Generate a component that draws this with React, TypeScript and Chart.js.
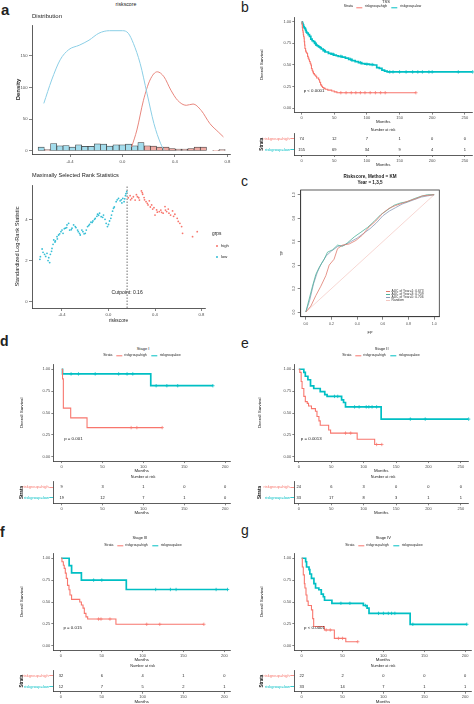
import React, { useEffect, useRef } from "react";
import { Chart, registerables } from "chart.js";
Chart.register(...registerables);

const FONT = '"Liberation Sans", Arial, Helvetica, sans-serif';
Chart.defaults.font.family = FONT;
const RED = "#F8766D";
const TEAL = "#00BFC4";
const INK = "#333333";

// ---------------- Panel a: distribution ----------------
const distTicksX = [-0.4, 0, 0.4, 0.8];
const distTicksY = [0, 50, 100, 150];
const histBins = [-0.62, -0.573, -0.525, -0.477, -0.43, -0.382, -0.335, -0.287, -0.239, -0.192, -0.144, -0.097, -0.049, -0.001, 0.046, 0.094, 0.141, 0.189, 0.236, 0.284, 0.332, 0.379, 0.427, 0.474, 0.522, 0.57, 0.617, 0.665, 0.712, 0.76];
const histLow = [6, null, 11.6, 8, 8.5, 6, 9.5, 7, 7, 11, 10.5, 7.4, 9.5, 9.5, 10.5, 8, 13, null, null, null, null, null, null, null, null, null, null, null, null, null];
const histHigh = [null, 2, null, null, null, null, null, null, null, null, null, null, null, null, null, null, null, 8, 7.4, 6, 6, 3.7, 2.6, 2.6, 3.7, 6, 6, null, 1, 2];
const densLowX = [-0.6, -0.54, -0.475, -0.41, -0.33, -0.255, -0.18, -0.1, 0.0, 0.044, 0.083, 0.135, 0.187, 0.24, 0.29, 0.317];
const densLowY = [75, 112, 144, 160, 167, 175, 186, 190, 190, 186, 170, 138, 91, 43, 12, 1];
const densHighX = [0.07, 0.11, 0.16, 0.21, 0.265, 0.317, 0.369, 0.42, 0.486, 0.538, 0.6, 0.667, 0.73, 0.77];
const densHighY = [6, 33, 80, 112, 125, 117, 96, 80, 72, 74, 64, 43, 30, 22];

// ---------------- Panel a: maximally selected rank statistics ----------------
const rankTicksX = [-0.4, 0, 0.4, 0.8];
const rankTicksY = [0, 2, 4];
const rankLowX = [-0.59, -0.586, -0.571, -0.563, -0.529, -0.514, -0.506, -0.5, -0.486, -0.477, -0.471, -0.457, -0.443, -0.429, -0.409, -0.4, -0.391, -0.371, -0.357, -0.343, -0.334, -0.314, -0.3, -0.286, -0.266, -0.249, -0.243, -0.229, -0.2, -0.191, -0.18, -0.163, -0.151, -0.134, -0.114, -0.094, -0.077, -0.063, -0.043, -0.02, -0.009, 0.009, 0.026, 0.043, 0.066, 0.086, 0.1, 0.123, 0.134, 0.146, 0.157, -0.55, -0.54, -0.52, -0.49, -0.46, -0.44, -0.42, -0.38, -0.36, -0.32, -0.28, -0.26, -0.22, -0.21, -0.17, -0.14, -0.12, -0.1, -0.085, -0.05, -0.03, 0.0, 0.02, 0.035, 0.05, 0.075, 0.11, 0.115, 0.14, 0.15];
const rankLowY = [2.06, 2.19, 2.56, 2.4, 2.35, 2.14, 1.9, 2.3, 2.59, 2.79, 3.0, 2.95, 3.16, 3.24, 3.4, 3.48, 3.32, 3.57, 3.73, 3.81, 3.48, 3.57, 3.73, 3.65, 3.48, 3.32, 3.24, 3.48, 3.32, 3.48, 3.65, 3.76, 3.86, 3.92, 4.05, 4.25, 4.3, 4.13, 4.21, 3.81, 3.65, 3.92, 4.21, 4.54, 4.86, 5.02, 4.9, 5.02, 4.86, 5.15, 5.35, 2.3, 2.2, 2.0, 2.45, 2.9, 3.05, 3.3, 3.55, 3.6, 3.5, 3.6, 3.4, 3.4, 3.3, 3.7, 3.85, 4.0, 4.15, 4.2, 4.1, 4.0, 3.75, 4.05, 4.4, 4.6, 4.95, 4.95, 4.8, 5.0, 5.25];
const rankHighX = [0.186, 0.2, 0.214, 0.229, 0.249, 0.266, 0.283, 0.294, 0.306, 0.323, 0.334, 0.351, 0.371, 0.391, 0.4, 0.414, 0.437, 0.457, 0.486, 0.5, 0.514, 0.534, 0.551, 0.571, 0.591, 0.614, 0.629, 0.637, 0.723, 0.763, 0.17, 0.19, 0.24, 0.26, 0.29, 0.31, 0.34, 0.36, 0.38, 0.42, 0.45, 0.47, 0.49, 0.52, 0.56, 0.6];
const rankHighY = [5.15, 5.02, 5.1, 4.94, 5.1, 4.94, 5.38, 5.22, 5.06, 4.86, 4.78, 4.9, 4.7, 4.57, 4.21, 4.46, 4.38, 4.34, 4.62, 4.38, 4.5, 4.21, 4.41, 4.25, 4.05, 3.81, 3.65, 3.32, 3.16, 3.4, 5.05, 4.95, 5.2, 5.05, 5.3, 4.95, 4.7, 4.6, 4.5, 4.35, 4.45, 4.3, 4.45, 4.3, 4.15, 3.9];
const cutpoint = 0.16;
const rankYMin = -0.306;
const rankYMax = 5.67;

// ---------------- Panel c: ROC ----------------
const rocTicks = [0, 0.2, 0.4, 0.6, 0.8, 1.0];
const rocFP1 = [0, 0.039, 0.078, 0.117, 0.156, 0.182, 0.22, 0.247, 0.286, 0.338, 0.39, 0.44, 0.494, 0.545, 0.597, 0.65, 0.7, 0.753, 0.805, 0.857, 0.909, 1];
const rocTP1 = [0, 0.05, 0.14, 0.22, 0.31, 0.4, 0.45, 0.54, 0.57, 0.58, 0.61, 0.655, 0.727, 0.776, 0.84, 0.885, 0.908, 0.928, 0.948, 0.966, 0.99, 1];
const rocFP3 = [0, 0.026, 0.052, 0.078, 0.104, 0.143, 0.169, 0.208, 0.247, 0.286, 0.325, 0.377, 0.429, 0.48, 0.53, 0.584, 0.636, 0.688, 0.74, 0.79, 0.844, 0.896, 0.948, 1];
const rocTP3 = [0, 0.11, 0.22, 0.32, 0.38, 0.45, 0.51, 0.53, 0.57, 0.56, 0.59, 0.64, 0.68, 0.72, 0.77, 0.83, 0.87, 0.91, 0.93, 0.94, 0.966, 0.986, 1, 1];
const rocFP5 = [0, 0.03, 0.06, 0.09, 0.12, 0.16, 0.2, 0.25, 0.3, 0.35, 0.4, 0.45, 0.5, 0.55, 0.6, 0.65, 0.7, 0.75, 0.8, 0.85, 0.9, 0.95, 1];
const rocTP5 = [0, 0.1, 0.24, 0.34, 0.41, 0.48, 0.52, 0.56, 0.57, 0.6, 0.63, 0.67, 0.71, 0.76, 0.82, 0.86, 0.89, 0.92, 0.94, 0.96, 0.98, 0.99, 1];
const rocRandom = [0, 1];
const rocLegend = ["AUC of Year=1: 0.673", "AUC of Year=3: 0.709", "AUC of Year=5: 0.706", "Random"];
const rocColors = ["#E07B6E", "#4DB39A", "#8A9BB8", "#F3C6C0"];

// ---------------- KM panels ----------------
const survTicksY = [0, 0.25, 0.5, 0.75, 1];
const strata = ["riskgroup=high", "riskgroup=low"];

// b: TSS
const bTicksX = [0, 50, 100, 150, 200, 250];
const bHighT = [0, 0.5, 1, 1.5, 2, 2.5, 3, 3.6, 4, 4.5, 5, 6, 7, 7.7, 9, 10, 11, 12, 13, 14, 15, 16, 17, 18, 19.5, 21.5, 23, 26, 27.5, 29, 30.5, 32, 34, 36, 40, 46, 50, 54, 175];
const bHighS = [1, 0.97, 0.93, 0.9, 0.88, 0.85, 0.83, 0.81, 0.77, 0.73, 0.69, 0.66, 0.645, 0.635, 0.6, 0.58, 0.56, 0.54, 0.52, 0.5, 0.46, 0.44, 0.42, 0.4, 0.385, 0.37, 0.35, 0.33, 0.3, 0.27, 0.255, 0.24, 0.23, 0.22, 0.21, 0.2, 0.19, 0.18, 0.18];
const bHighCens = [60, 68, 76, 83, 90, 97, 105, 113, 121, 128, 175];
const bLowT = [0, 1, 2, 3, 4, 5, 6, 7, 8, 10, 12, 14, 16, 18, 20, 22, 24, 26, 28, 30, 33, 36, 41, 45, 49, 53, 56, 62, 67, 72, 77, 82, 87, 92, 97, 104, 110, 115, 119, 123, 127, 131, 262];
const bLowS = [1, 0.98, 0.96, 0.94, 0.93, 0.92, 0.9, 0.88, 0.87, 0.85, 0.83, 0.8, 0.78, 0.77, 0.75, 0.73, 0.72, 0.71, 0.7, 0.685, 0.665, 0.65, 0.635, 0.625, 0.615, 0.607, 0.6, 0.59, 0.58, 0.565, 0.55, 0.54, 0.527, 0.515, 0.51, 0.505, 0.5, 0.47, 0.46, 0.44, 0.43, 0.42, 0.42];
const bLowCens = [21, 35, 48, 60, 75, 90, 100, 108, 135, 140, 150, 160, 170, 178, 185, 195, 200, 240, 262];
const bRiskHigh = [74, 12, 7, 1, 0, 0];
const bRiskLow = [155, 69, 34, 9, 4, 1];

// d: Stage I
const dTicksX = [0, 50, 100, 150, 200];
const dHighT = [0, 1, 2, 11, 31, 123];
const dHighS = [1, 0.89, 0.556, 0.444, 0.333, 0.333];
const dHighCens = [85, 92, 123];
const dLowT = [0, 1, 109, 185];
const dLowS = [1, 0.947, 0.812, 0.812];
const dLowCens = [11.5, 20.5, 41, 69.7, 80, 87, 115.6, 128.7, 142, 185];
const dRiskHigh = [9, 3, 1, 0, 0];
const dRiskLow = [19, 12, 7, 1, 0];

// e: Stage II
const eTicksX = [0, 50, 100, 150, 200, 250];
const eHighT = [0, 1.5, 3.6, 5, 7.7, 10, 13, 15, 19.5, 25.6, 28, 31, 33, 46, 49, 90, 117, 128];
const eHighS = [1, 0.965, 0.86, 0.78, 0.69, 0.63, 0.61, 0.58, 0.55, 0.52, 0.46, 0.41, 0.36, 0.305, 0.27, 0.2, 0.14, 0.14];
const eHighCens = [72, 80, 120, 128];
const eLowT = [0, 5, 7.7, 10, 14, 18, 23, 33, 40, 43.6, 66, 69, 72, 127, 262];
const eLowS = [1, 1, 0.965, 0.92, 0.88, 0.81, 0.78, 0.745, 0.71, 0.69, 0.65, 0.62, 0.57, 0.43, 0.43];
const eLowCens = [55, 60, 86, 93, 104, 108, 113, 120, 172, 195, 262];
const eRiskHigh = [24, 6, 3, 0, 0, 0];
const eRiskLow = [33, 17, 8, 3, 1, 1];

// f: Stage III
const fTicksX = [0, 50, 100, 150, 200];
const fHighT = [0, 1.2, 2.9, 4, 5.3, 6.5, 8, 9.8, 11, 13, 23, 25, 27, 28.6, 30.6, 32.7, 67.3, 175];
const fHighS = [1, 0.96, 0.92, 0.885, 0.83, 0.77, 0.69, 0.64, 0.58, 0.53, 0.5, 0.465, 0.43, 0.37, 0.33, 0.305, 0.245, 0.245];
const fHighCens = [46, 49, 60, 105, 121, 175];
const fLowT = [0, 10, 13, 25, 80, 204];
const fLowS = [1, 0.917, 0.833, 0.75, 0.643, 0.643];
const fLowCens = [40, 50, 116, 134, 141, 190, 204];
const fRiskHigh = [32, 6, 4, 1, 0];
const fRiskLow = [12, 7, 5, 2, 1];

// g: Stage IV
const gTicksX = [0, 50, 100, 150, 200];
const gHighT = [0, 0.8, 2, 3.3, 4, 5.3, 6.5, 8, 12, 13.5, 14.7, 27.8, 40, 54, 68.6];
const gHighS = [1, 0.9, 0.81, 0.71, 0.66, 0.58, 0.51, 0.46, 0.41, 0.31, 0.22, 0.18, 0.084, 0.046, 0.046];
const gHighCens = [30, 35, 45, 50, 68.6];
const gLowT = [0, 4.9, 6, 9, 10, 12, 15, 17, 21, 24, 26.5, 28, 37, 75.5, 80, 82.4, 132.7, 202];
const gLowS = [1, 0.96, 0.9, 0.87, 0.82, 0.77, 0.71, 0.66, 0.64, 0.59, 0.56, 0.52, 0.485, 0.46, 0.43, 0.37, 0.245, 0.245];
const gLowCens = [48, 59, 78, 94, 100, 106, 110, 114, 136, 202];
const gRiskHigh = [22, 2, 0, 0, 0];
const gRiskLow = [33, 14, 7, 1, 1];

// ---------------- helpers ----------------
type Box = { l: number; t: number; w: number; h: number };
type Area = { l: number; t: number; r: number; b: number };

function rbox(c: Box): Box {
  return { l: Math.round(c.l), t: Math.round(c.t), w: Math.round(c.w), h: Math.round(c.h) };
}
function geo(c0: Box, a: Area) {
  const c = rbox(c0);
  return {
    padding: { top: a.t - c.t, right: c.l + c.w - a.r, left: 0, bottom: 0 },
    yW: a.l - c.l,
    xH: c.t + c.h - a.b,
  };
}
const pts = (xs: number[], ys: (number | null)[]) =>
  xs.map((x, i) => ({ x, y: ys[i] })).filter((p) => p.y !== null && p.y !== undefined);
const survAt = (t: number[], s: number[], x: number) => {
  let v = s[0];
  for (let i = 0; i < t.length; i++) if (t[i] <= x) v = s[i];
  return v;
};

function linAxis(p: {
  min: number; max: number; ticks: number[]; fmt: (v: number) => string; fit: (s: any) => void;
  title?: string; tickSize?: number; titleSize?: number; titleBold?: boolean; tickLen?: number; pad?: number; rot?: number;
}) {
  return {
    type: "linear",
    min: p.min,
    max: p.max,
    offset: false,
    afterBuildTicks: (s: any) => { s.ticks = p.ticks.map((v) => ({ value: v })); },
    afterFit: p.fit,
    ticks: {
      font: { size: p.tickSize ?? 4, family: FONT },
      color: "#4d4d4d",
      padding: p.pad ?? 1,
      autoSkip: false,
      maxRotation: p.rot ?? 0,
      minRotation: p.rot ?? 0,
      crossAlign: p.rot ? "center" : "near",
      callback: (v: any) => p.fmt(Number(v)),
    },
    grid: { display: true, drawOnChartArea: false, tickLength: p.tickLen ?? 2, color: INK, lineWidth: 0.6, offset: false },
    border: { display: true, color: INK, width: 0.8 },
    title: p.title
      ? { display: true, text: p.title, font: { size: p.titleSize ?? 4.4, family: FONT, weight: p.titleBold ? "bold" : "normal" }, color: "#222", padding: 0 }
      : { display: false },
  };
}

function notes(items: { x: number; y: number; text: string; size: number; align: string }[]) {
  return {
    id: "notes",
    afterDatasetsDraw(chart: any) {
      const ctx = chart.ctx;
      items.forEach((it) => {
        const x = chart.scales.x.getPixelForValue(it.x);
        const y = chart.scales.y.getPixelForValue(it.y);
        ctx.save();
        ctx.font = `${it.size}px ${FONT}`;
        ctx.fillStyle = "#222";
        ctx.textAlign = it.align as CanvasTextAlign;
        ctx.textBaseline = "middle";
        ctx.fillText(it.text, x, y);
        ctx.restore();
      });
    },
  };
}

const boxPlugin = {
  id: "boxframe",
  afterDraw(chart: any) {
    const a = chart.chartArea;
    const ctx = chart.ctx;
    ctx.save();
    ctx.strokeStyle = INK;
    ctx.lineWidth = 0.8;
    ctx.strokeRect(a.left, a.top, a.right - a.left, a.bottom - a.top);
    ctx.restore();
  },
};

function riskNumbers(rows: number[][]) {
  return {
    id: "risknums",
    afterDatasetsDraw(chart: any) {
      const ctx = chart.ctx;
      rows.forEach((vals, di) => {
        const meta = chart.getDatasetMeta(di);
        meta.data.forEach((el: any, j: number) => {
          ctx.save();
          ctx.font = `4px ${FONT}`;
          ctx.fillStyle = "#222";
          ctx.textAlign = "center";
          ctx.textBaseline = "middle";
          ctx.fillText(String(vals[j]), el.x, el.y);
          ctx.restore();
        });
      });
    },
  };
}

const baseOpts = (g: any) => ({
  animation: false,
  responsive: false,
  events: [],
  layout: { padding: g.padding },
  plugins: { legend: { display: false }, tooltip: { enabled: false }, title: { display: false } },
});

// ---------------- chart configs ----------------
function distConfig(c: Box, a: Area) {
  const g = geo(c, a);
  const barStyle = { type: "bar", borderColor: "#3a3a3a", borderWidth: 0.7, borderSkipped: false, barPercentage: 1, categoryPercentage: 1, grouped: false };
  return {
    type: "bar",
    data: {
      datasets: [
        { type: "line", data: pts(densLowX, densLowY), borderColor: "#8ccfe6", borderWidth: 1, pointRadius: 0, tension: 0.4, cubicInterpolationMode: "monotone" },
        { type: "line", data: pts(densHighX, densHighY), borderColor: "#e8877e", borderWidth: 1, pointRadius: 0, tension: 0.4, cubicInterpolationMode: "monotone" },
        { ...barStyle, data: pts(histBins, histLow), backgroundColor: "#a3dcec" },
        { ...barStyle, data: pts(histBins, histHigh), backgroundColor: "#eeaaa3" },
      ],
    },
    options: {
      ...baseOpts(g),
      scales: {
        x: { ...linAxis({ min: -0.69, max: 0.82, ticks: distTicksX, fmt: (v) => v.toFixed(1), fit: (s) => { s.height = g.xH; }, tickLen: 3, pad: 2, tickSize: 4.2 }), grid: { display: true, drawOnChartArea: false, tickLength: 3, color: INK, lineWidth: 0.6, offset: false } },
        y: linAxis({ min: -5, max: 199, ticks: distTicksY, fmt: (v) => String(v), fit: (s) => { s.width = g.yW; }, title: "Density", titleSize: 6, titleBold: true, tickLen: 3, pad: 1.5, tickSize: 4.2 }),
      },
    },
  };
}

function rankConfig(c: Box, a: Area) {
  const g = geo(c, a);
  return {
    type: "scatter",
    data: {
      datasets: [
        { data: pts(rankHighX, rankHighY), pointRadius: 0.9, backgroundColor: RED, borderWidth: 0 },
        { data: pts(rankLowX, rankLowY), pointRadius: 0.9, backgroundColor: "#37bfd6", borderWidth: 0 },
        { data: [{ x: cutpoint, y: rankYMin }, { x: cutpoint, y: rankYMax }], showLine: true, borderColor: "#333", borderWidth: 0.7, borderDash: [1.5, 1.5], pointRadius: 0 },
      ],
    },
    options: {
      ...baseOpts(g),
      scales: {
        x: linAxis({ min: -0.658, max: 0.83, ticks: rankTicksX, fmt: (v) => v.toFixed(1), fit: (s) => { s.height = g.xH; }, title: "riskscore", titleSize: 4.8, tickLen: 3, pad: 1.5, tickSize: 4.2 }),
        y: linAxis({ min: rankYMin, max: rankYMax, ticks: rankTicksY, fmt: (v) => String(v), fit: (s) => { s.width = g.yW; }, title: "Standardized Log-Rank Statistic", titleSize: 5.6, tickLen: 3, pad: 1.5, tickSize: 4.2 }),
      },
    },
    plugins: [notes([{ x: cutpoint, y: 0.45, text: "Cutpoint: 0.16", size: 5, align: "center" }])],
  };
}

function rocConfig(c: Box, a: Area) {
  const g = geo(c, a);
  const line = (xs: number[], ys: number[], col: string, w: number) => ({ data: pts(xs, ys), showLine: true, borderColor: col, borderWidth: w, pointRadius: 0 });
  return {
    type: "scatter",
    data: {
      datasets: [
        line(rocFP1, rocTP1, rocColors[0], 0.8),
        line(rocFP3, rocTP3, rocColors[1], 0.8),
        line(rocFP5, rocTP5, rocColors[2], 0.8),
        line(rocRandom, rocRandom, rocColors[3], 0.7),
      ],
    },
    options: {
      ...baseOpts(g),
      scales: {
        x: linAxis({ min: -0.04, max: 1.04, ticks: rocTicks, fmt: (v) => v.toFixed(1), fit: (s) => { s.height = g.xH; }, title: "FP", titleSize: 3.8, tickLen: 3, pad: 2.5, tickSize: 3.5 }),
        y: linAxis({ min: -0.04, max: 1.04, ticks: rocTicks, fmt: (v) => v.toFixed(1), fit: (s) => { s.width = g.yW; }, title: "TP", titleSize: 3.8, tickLen: 3, pad: 1.5, tickSize: 3.5, rot: 90 }),
      },
    },
    plugins: [boxPlugin],
  };
}

function kmConfig(p: {
  c: Box; a: Area; xMin: number; xMax: number; xTicks: number[];
  hiT: number[]; hiS: number[]; loT: number[]; loS: number[]; hiC: number[]; loC: number[]; pText: string;
}) {
  const g = geo(p.c, p.a);
  const cens = (cs: number[], t: number[], s: number[]) => cs.map((x) => ({ x, y: survAt(t, s, x) }));
  return {
    type: "line",
    data: {
      datasets: [
        { data: pts(p.hiT, p.hiS), borderColor: RED, borderWidth: 1.1, stepped: true, pointRadius: 0, fill: false },
        { data: pts(p.loT, p.loS), borderColor: TEAL, borderWidth: 1.7, stepped: true, pointRadius: 0, fill: false },
        { data: cens(p.hiC, p.hiT, p.hiS), showLine: false, pointStyle: "cross", pointRadius: 1.7, borderColor: RED, borderWidth: 0.7, clip: 4 },
        { data: cens(p.loC, p.loT, p.loS), showLine: false, pointStyle: "cross", pointRadius: 1.7, borderColor: TEAL, borderWidth: 0.8, clip: 4 },
      ],
    },
    options: {
      ...baseOpts(g),
      scales: {
        x: linAxis({ min: p.xMin, max: p.xMax, ticks: p.xTicks, fmt: (v) => String(v), fit: (s) => { s.height = g.xH; }, title: "Months" }),
        y: linAxis({ min: -0.05, max: 1.05, ticks: survTicksY, fmt: (v) => v.toFixed(2), fit: (s) => { s.width = g.yW; }, title: "Overall Survival" }),
      },
    },
    plugins: [notes([{ x: 3, y: 0.2, text: p.pText, size: 4.4, align: "left" }])],
  };
}

function riskConfig(p: { c: Box; a: Area; xMin: number; xMax: number; xTicks: number[]; hi: number[]; lo: number[] }) {
  const g = geo(p.c, p.a);
  const rowCol = (ctx: any) => (ctx.index === 0 ? RED : TEAL);
  return {
    type: "scatter",
    data: {
      datasets: [
        { data: p.xTicks.map((x) => ({ x, y: strata[0] })), pointRadius: 0 },
        { data: p.xTicks.map((x) => ({ x, y: strata[1] })), pointRadius: 0 },
      ],
    },
    options: {
      ...baseOpts(g),
      scales: {
        x: linAxis({ min: p.xMin, max: p.xMax, ticks: p.xTicks, fmt: (v) => String(v), fit: (s) => { s.height = g.xH; }, title: "Months" }),
        y: {
          type: "category",
          labels: strata,
          offset: true,
          afterFit: (s: any) => { s.width = g.yW; },
          ticks: { font: { size: 4, family: FONT }, color: rowCol, padding: 0.5, autoSkip: false },
          grid: { display: true, drawOnChartArea: false, tickLength: 4, tickColor: rowCol, color: INK, lineWidth: 0.8, offset: false },
          border: { display: true, color: INK, width: 0.8 },
          title: { display: true, text: "Strata", font: { size: 4.6, family: FONT, weight: "bold" }, color: "#222", padding: 0 },
        },
      },
    },
    plugins: [riskNumbers([p.hi, p.lo])],
  };
}

// ---------------- React components ----------------
function ChartCanvas({ box, make }: { box: Box; make: () => any }) {
  const ref = useRef<HTMLCanvasElement>(null);
  const b = rbox(box);
  useEffect(() => {
    const chart = new Chart(ref.current as HTMLCanvasElement, make());
    return () => chart.destroy();
  }, []);
  return (
    <canvas
      ref={ref}
      width={b.w}
      height={b.h}
      style={{ position: "absolute", left: b.l, top: b.t, width: b.w, height: b.h }}
    />
  );
}

function T({ x, y, s, a = "c", r = 0, w = 400, c = "#222", children }: any) {
  const tx = a === "c" ? "-50%" : a === "r" ? "-100%" : "0%";
  return (
    <div
      style={{
        position: "absolute", left: x, top: y, fontSize: s, fontWeight: w, color: c, fontFamily: FONT,
        lineHeight: 1, whiteSpace: "nowrap", transform: `translate(${tx},-50%)${r ? ` rotate(${r}deg)` : ""}`,
      }}
    >
      {children}
    </div>
  );
}

function Key({ c }: { c: string }) {
  return <span style={{ display: "inline-block", width: 6, height: 0, borderTop: `1px solid ${c}`, margin: "0 1px" }} />;
}

function KMLegend({ x, y }: { x: number; y: number }) {
  return (
    <div
      style={{
        position: "absolute", left: x, top: y, transform: "translate(-50%,-50%)", display: "flex", alignItems: "center",
        gap: 1.5, fontSize: 3.4, fontFamily: FONT, color: "#222", whiteSpace: "nowrap", lineHeight: 1,
      }}
    >
      <span style={{ marginRight: 1 }}>Strata</span>
      <Key c={RED} />
      <span style={{ marginRight: 2 }}>{strata[0]}</span>
      <Key c={TEAL} />
      <span>{strata[1]}</span>
    </div>
  );
}

function ROCLegend({ x, y }: { x: number; y: number }) {
  return (
    <div style={{ position: "absolute", left: x, top: y, fontFamily: FONT, fontSize: 3.3, color: "#333", lineHeight: "3.2px" }}>
      {rocLegend.map((t, i) => (
        <div key={t} style={{ display: "flex", alignItems: "center", whiteSpace: "nowrap", height: 3.2 }}>
          <span style={{ display: "inline-block", width: 4, height: 0, borderTop: `0.8px solid ${rocColors[i]}`, marginRight: 1.5 }} />
          <span>{t}</span>
        </div>
      ))}
    </div>
  );
}

// geometry of each plot
const G = {
  distC: { l: 15, t: 15, w: 225, h: 155 }, distA: { l: 32, t: 25, r: 230, b: 154 },
  rankC: { l: 14, t: 177, w: 200, h: 147 }, rankA: { l: 32, t: 185, r: 205, b: 308 },
  bC: { l: 259, t: 9, w: 222, h: 115 }, bA: { l: 294.3, t: 17.4, r: 472, b: 112.6 },
  bRC: { l: 259, t: 125, w: 222, h: 42 }, bRA: { l: 294.3, t: 133.3, r: 472, b: 155 },
  cC: { l: 280, t: 180, w: 167, h: 155 }, cA: { l: 300.7, t: 190, r: 439.3, b: 316.7 },
  dC: { l: 19, t: 357, w: 219, h: 116 }, dA: { l: 53.3, t: 364.9, r: 230, b: 461.1 },
  dRC: { l: 19, t: 474, w: 219, h: 41 }, dRA: { l: 53.3, t: 481.7, r: 230, b: 503.3 },
  eC: { l: 257, t: 357, w: 221, h: 116 }, eA: { l: 294.3, t: 364.9, r: 468, b: 461.1 },
  eRC: { l: 257, t: 474, w: 221, h: 41 }, eRA: { l: 294.3, t: 481.7, r: 468, b: 503.3 },
  fC: { l: 19, t: 546, w: 219, h: 116 }, fA: { l: 53.3, t: 553.9, r: 230, b: 650.1 },
  fRC: { l: 19, t: 662, w: 219, h: 42 }, fRA: { l: 53.3, t: 670.5, r: 230, b: 691.7 },
  gC: { l: 259, t: 546, w: 222, h: 116 }, gA: { l: 294.3, t: 553.9, r: 471.7, b: 650.1 },
  gRC: { l: 259, t: 662, w: 222, h: 42 }, gRA: { l: 294.3, t: 670.5, r: 471.7, b: 691.7 },
};

export default function App() {
  return (
    <div style={{ position: "absolute", left: 0, top: 0, width: 474, height: 704, overflow: "hidden", background: "#fff" }}>
      <ChartCanvas box={G.distC} make={() => distConfig(G.distC, G.distA)} />
      <ChartCanvas box={G.rankC} make={() => rankConfig(G.rankC, G.rankA)} />
      <ChartCanvas box={G.cC} make={() => rocConfig(G.cC, G.cA)} />
      <ChartCanvas box={G.bC} make={() => kmConfig({ c: G.bC, a: G.bA, xMin: -11.3, xMax: 261, xTicks: bTicksX, hiT: bHighT, hiS: bHighS, loT: bLowT, loS: bLowS, hiC: bHighCens, loC: bLowCens, pText: "p < 0.0001" })} />
      <ChartCanvas box={G.bRC} make={() => riskConfig({ c: G.bRC, a: G.bRA, xMin: -11.3, xMax: 261, xTicks: bTicksX, hi: bRiskHigh, lo: bRiskLow })} />
      <ChartCanvas box={G.dC} make={() => kmConfig({ c: G.dC, a: G.dA, xMin: -10.3, xMax: 206, xTicks: dTicksX, hiT: dHighT, hiS: dHighS, loT: dLowT, loS: dLowS, hiC: dHighCens, loC: dLowCens, pText: "p = 0.001" })} />
      <ChartCanvas box={G.dRC} make={() => riskConfig({ c: G.dRC, a: G.dRA, xMin: -10.3, xMax: 206, xTicks: dTicksX, hi: dRiskHigh, lo: dRiskLow })} />
      <ChartCanvas box={G.eC} make={() => kmConfig({ c: G.eC, a: G.eA, xMin: -7, xMax: 261, xTicks: eTicksX, hiT: eHighT, hiS: eHighS, loT: eLowT, loS: eLowS, hiC: eHighCens, loC: eLowCens, pText: "p = 0.0013" })} />
      <ChartCanvas box={G.eRC} make={() => riskConfig({ c: G.eRC, a: G.eRA, xMin: -7, xMax: 261, xTicks: eTicksX, hi: eRiskHigh, lo: eRiskLow })} />
      <ChartCanvas box={G.fC} make={() => kmConfig({ c: G.fC, a: G.fA, xMin: -9.4, xMax: 207, xTicks: fTicksX, hiT: fHighT, hiS: fHighS, loT: fLowT, loS: fLowS, hiC: fHighCens, loC: fLowCens, pText: "p = 0.015" })} />
      <ChartCanvas box={G.fRC} make={() => riskConfig({ c: G.fRC, a: G.fRA, xMin: -9.4, xMax: 207, xTicks: fTicksX, hi: fRiskHigh, lo: fRiskLow })} />
      <ChartCanvas box={G.gC} make={() => kmConfig({ c: G.gC, a: G.gA, xMin: -9, xMax: 208, xTicks: gTicksX, hiT: gHighT, hiS: gHighS, loT: gLowT, loS: gLowS, hiC: gHighCens, loC: gLowCens, pText: "p < 0.0001" })} />
      <ChartCanvas box={G.gRC} make={() => riskConfig({ c: G.gRC, a: G.gRA, xMin: -9, xMax: 208, xTicks: gTicksX, hi: gRiskHigh, lo: gRiskLow })} />

      {/* panel letters */}
      <T x={1} y={9} s={15} a="l" w={700}>a</T>
      <T x={241} y={7} s={14} a="l">b</T>
      <T x={241} y={181} s={14} a="l">c</T>
      <T x={0} y={341} s={14} a="l" w={700}>d</T>
      <T x={241} y={343} s={14} a="l">e</T>
      <T x={0} y={532} s={14} a="l" w={700}>f</T>
      <T x={241} y={530} s={14} a="l">g</T>

      {/* panel a texts */}
      <T x={126} y={5} s={5.2}>riskscore</T>
      <T x={32} y={16} s={6} a="l">Distribution</T>
      <T x={32} y={176} s={5.6} a="l">Maximally Selected Rank Statistics</T>
      <T x={212} y={234} s={4.8} a="l">grps</T>
      <div style={{ position: "absolute", left: 215.8, top: 244.8, width: 1.8, height: 1.8, borderRadius: "50%", background: RED }} />
      <T x={221} y={245.7} s={4.2} a="l">high</T>
      <div style={{ position: "absolute", left: 215.8, top: 255.8, width: 1.8, height: 1.8, borderRadius: "50%", background: "#37bfd6" }} />
      <T x={221} y={256.7} s={4.2} a="l">low</T>

      {/* panel b texts */}
      <T x={386} y={2} s={4}>TSS</T>
      <KMLegend x={382.5} y={7.3} />
      <T x={383} y={130.7} s={3.8}>Number at risk</T>

      {/* panel c texts */}
      <T x={370} y={177.3} s={4.6} w={700}>Riskscore, Method = KM</T>
      <T x={370} y={183.3} s={4.6} w={700}>Year = 1,3,5</T>
      <ROCLegend x={386} y={289.5} />

      {/* panel d */}
      <T x={143} y={349} s={4}>Stage I</T>
      <KMLegend x={142} y={356} />
      <T x={143} y={477.7} s={3.8}>Number at risk</T>

      {/* panel e */}
      <T x={381.7} y={349} s={4}>Stage II</T>
      <KMLegend x={381} y={356} />
      <T x={383} y={477.7} s={3.8}>Number at risk</T>

      {/* panel f */}
      <T x={140} y={538.3} s={4}>Stage III</T>
      <KMLegend x={143} y={545.7} />
      <T x={142.7} y={667.3} s={3.8}>Number at risk</T>

      {/* panel g */}
      <T x={383.3} y={538.3} s={4}>Stage IV</T>
      <KMLegend x={384} y={545.7} />
      <T x={383} y={667.3} s={3.8}>Number at risk</T>
    </div>
  );
}
